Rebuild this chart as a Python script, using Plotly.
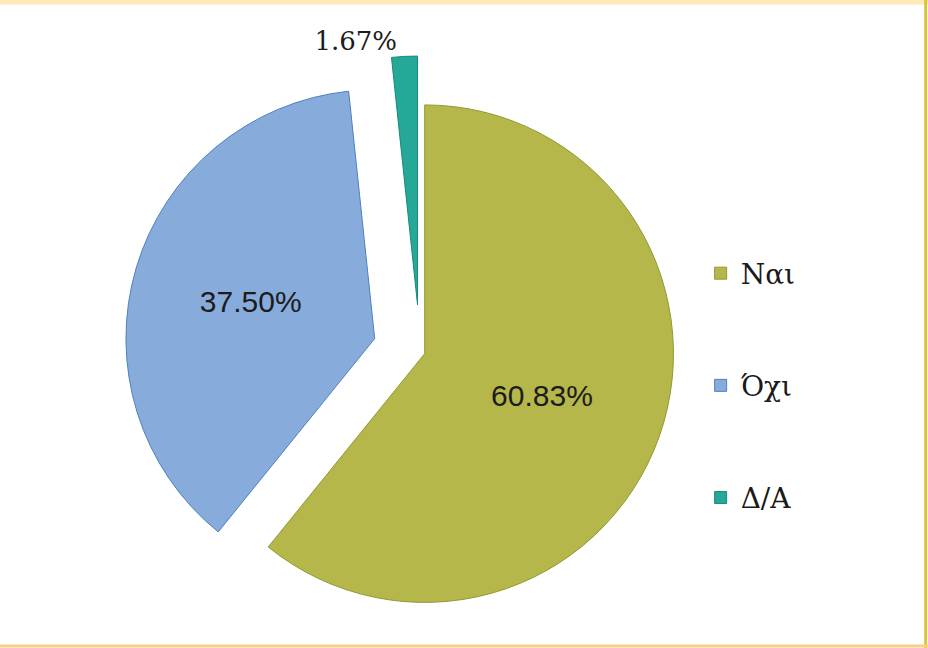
import plotly.graph_objects as go

categories = ["Nαι", "Όχι", "Δ/Α"]
values = [60.83, 37.50, 1.67]

slice_colors = ["#b5b74a", "#87acdb", "#25a897"]
edge_colors = ["#8e9a32", "#4f80bf", "#178a7c"]
pulls = [0.02, 0.19, 0.19]
positions = ["inside", "inside", "outside"]

legend_labels = [" <br>" + c + "<br> " for c in categories]

fig = go.Figure()
fig.add_trace(go.Pie(
    labels=legend_labels,
    values=values,
    sort=False,
    direction="clockwise",
    rotation=0,
    pull=pulls,
    marker=dict(colors=slice_colors, line=dict(color=edge_colors, width=1)),
    texttemplate="%{percent:.2%}",
    textposition=positions,
    insidetextorientation="horizontal",
    insidetextfont=dict(family="Liberation Sans, Arial, sans-serif", size=30, color="#1c1c1c"),
    outsidetextfont=dict(family="DejaVu Serif, serif", size=26, color="#1c1c1c"),
    domain=dict(x=[0.1336, 0.7716], y=[0.0, 0.9136]),
    automargin=False,
    hoverinfo="skip",
))

fig.update_layout(
    width=928,
    height=648,
    margin=dict(l=0, r=0, t=0, b=0, autoexpand=False),
    paper_bgcolor="white",
    plot_bgcolor="white",
    showlegend=True,
    legend=dict(
        x=0.755, xanchor="left",
        y=0.405, yanchor="middle",
        font=dict(family="DejaVu Serif, serif", size=28, color="#1a1a1a"),
        bgcolor="rgba(0,0,0,0)",
        itemclick=False,
    ),
    shapes=[
        dict(type="line", xref="paper", yref="paper", x0=0, x1=1, y0=0.997, y1=0.997,
             line=dict(color="#fdeab8", width=5)),
        dict(type="line", xref="paper", yref="paper", x0=0.9975, x1=0.9975, y0=0, y1=1,
             line=dict(color="#d9c53a", width=3)),
        dict(type="line", xref="paper", yref="paper", x0=0, x1=1, y0=0.003, y1=0.003,
             line=dict(color="#f7cf85", width=3)),
    ],
)

fig.write_html("out.html", config={"displayModeBar": False},
               post_script="document.body.style.margin='0';")
